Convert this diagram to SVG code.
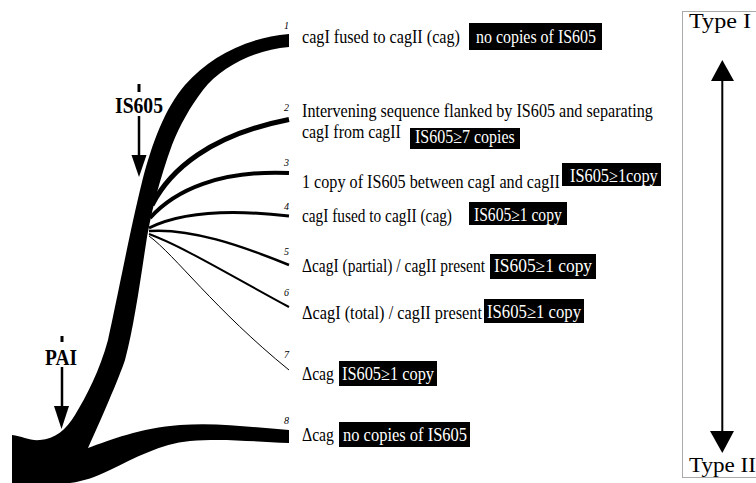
<svg xmlns="http://www.w3.org/2000/svg" width="756" height="483" viewBox="0 0 756 483">
  <style>
    .t { font-family: "Liberation Serif", "Times New Roman", serif; font-size: 18.5px; fill: #000; }
    .w { font-family: "Liberation Serif", "Times New Roman", serif; font-size: 18px; fill: #fff; }
    .num { font-family: "Liberation Serif", "Times New Roman", serif; font-size: 10px; font-style: italic; fill: #000; }
    .lbl { font-family: "Liberation Serif", "Times New Roman", serif; font-size: 24px; font-weight: bold; fill: #000; }
    .type { font-family: "Liberation Serif", "Times New Roman", serif; font-size: 20px; fill: #000; }
    .box { fill: #000; }
    .br { fill: none; stroke: #000; stroke-linecap: butt; }
  </style>
  <rect width="756" height="483" fill="#fff"/>

  <!-- main stem: PAI at the base, splitting into the long IS605 arm (1) and the short arm (8) -->
  <g id="stem">
    <path d="M12,483 L12,435 C22,436 30,441 40,440 C55,439 66,430 75,415 C86,397 100,370 108,340 C116,305 130,230 142,182 C152,143 165,108 185,85 C210,57 245,38 289,34 L289,47 C255,50 222,66 203,90 C190,107 180,125 172,145 C160,178 150,215 145,250 C139,290 133,330 125,360 C119,378 100,422 88,448 C110,440 140,428 180,425 C220,422 255,428 289,430 L289,443 C255,442 225,438 190,441 C160,444 135,458 110,470 C95,477 85,481 70,483 Z" fill="#000"/>
  </g>

  <!-- branches 2 to 7 leaving the IS605 arm -->
  <g id="connectors">
    <path class="br" d="M152,205 C170,170 210,135 289,119.5" stroke-width="5"/>
    <path class="br" d="M150,218 C175,190 220,170 289,173" stroke-width="4"/>
    <path class="br" d="M149,228 C175,215 220,208 289,216" stroke-width="3"/>
    <path class="br" d="M149,231 C190,228 240,245 289,265" stroke-width="2.5"/>
    <path class="br" d="M149,234 C180,245 235,278 289,307" stroke-width="2"/>
    <path class="br" d="M149,236 C175,255 215,310 289,370" stroke-width="1" stroke="#444"/>
  </g>

  <!-- insertion markers -->
  <g id="marker-is605">
    <rect x="137.5" y="84" width="3" height="8" fill="#000"/>
    <text class="lbl" x="115" y="113" textLength="48" lengthAdjust="spacingAndGlyphs">IS605</text>
    <line x1="139" y1="116" x2="139" y2="157" stroke="#000" stroke-width="2.5"/>
    <polygon points="131.5,155 146.5,155 139,177" fill="#000"/>
  </g>
  <g id="marker-pai">
    <rect x="60.5" y="336" width="3" height="6" fill="#000"/>
    <text class="lbl" x="45" y="365" textLength="32" lengthAdjust="spacingAndGlyphs">PAI</text>
    <line x1="62" y1="367" x2="62" y2="408" stroke="#000" stroke-width="2.5"/>
    <polygon points="54,406 69,406 61.5,429" fill="#000"/>
  </g>

  <!-- branch numbers -->
  <g id="numbers">
    <text class="num" x="284" y="29">1</text>
    <text class="num" x="284" y="111">2</text>
    <text class="num" x="284" y="166">3</text>
    <text class="num" x="284" y="210">4</text>
    <text class="num" x="284" y="255">5</text>
    <text class="num" x="284" y="296">6</text>
    <text class="num" x="284" y="358">7</text>
    <text class="num" x="284" y="424">8</text>
  </g>

  <!-- genotype descriptions (condensed serif: scaled 0.86 horizontally) -->
  <g id="row1">
    <text class="t" transform="matrix(0.86 0 0 1 302 43)" textLength="183.7" lengthAdjust="spacingAndGlyphs">cagI fused to cagII (cag)</text>
    <rect class="box" x="469" y="23" width="133" height="27"/>
    <text class="w" transform="matrix(0.86 0 0 1 476 43)" textLength="139.5" lengthAdjust="spacingAndGlyphs">no copies of IS605</text>
  </g>
  <g id="row2">
    <text class="t" transform="matrix(0.86 0 0 1 302 117)" textLength="408" lengthAdjust="spacingAndGlyphs">Intervening sequence flanked by IS605 and separating</text>
    <text class="t" transform="matrix(0.86 0 0 1 302 138)" textLength="115" lengthAdjust="spacingAndGlyphs">cagI from cagII</text>
    <rect class="box" x="410" y="128" width="110" height="21"/>
    <text class="w" transform="matrix(0.86 0 0 1 415 143)" textLength="116" lengthAdjust="spacingAndGlyphs">IS605≥7 copies</text>
  </g>
  <g id="row3">
    <text class="t" transform="matrix(0.86 0 0 1 302 188)" textLength="300" lengthAdjust="spacingAndGlyphs">1 copy of IS605 between cagI and cagII</text>
    <rect class="box" x="562" y="163" width="99" height="23"/>
    <text class="w" transform="matrix(0.86 0 0 1 570 182)" textLength="102" lengthAdjust="spacingAndGlyphs">IS605≥1copy</text>
  </g>
  <g id="row4">
    <text class="t" transform="matrix(0.86 0 0 1 302 222)" textLength="174.4" lengthAdjust="spacingAndGlyphs">cagI fused to cagII (cag)</text>
    <rect class="box" x="469" y="202" width="98" height="23"/>
    <text class="w" transform="matrix(0.86 0 0 1 474 221)" textLength="102" lengthAdjust="spacingAndGlyphs">IS605≥1 copy</text>
  </g>
  <g id="row5">
    <text class="t" transform="matrix(0.86 0 0 1 302 272)" textLength="212.8" lengthAdjust="spacingAndGlyphs">ΔcagI (partial) / cagII present</text>
    <rect class="box" x="490" y="254" width="106" height="25"/>
    <text class="w" transform="matrix(0.86 0 0 1 494 272)" textLength="114" lengthAdjust="spacingAndGlyphs">IS605≥1 copy</text>
  </g>
  <g id="row6">
    <text class="t" transform="matrix(0.86 0 0 1 302 319)" textLength="209.3" lengthAdjust="spacingAndGlyphs">ΔcagI (total) / cagII present</text>
    <rect class="box" x="484" y="299" width="100" height="24"/>
    <text class="w" transform="matrix(0.86 0 0 1 487 318)" textLength="109.3" lengthAdjust="spacingAndGlyphs">IS605≥1 copy</text>
  </g>
  <g id="row7">
    <text class="t" transform="matrix(0.86 0 0 1 302 380)" textLength="37.2" lengthAdjust="spacingAndGlyphs">Δcag</text>
    <rect class="box" x="339" y="361" width="98" height="25"/>
    <text class="w" transform="matrix(0.86 0 0 1 342 380)" textLength="107" lengthAdjust="spacingAndGlyphs">IS605≥1 copy</text>
  </g>
  <g id="row8">
    <text class="t" transform="matrix(0.86 0 0 1 302 441)" textLength="37.2" lengthAdjust="spacingAndGlyphs">Δcag</text>
    <rect class="box" x="339" y="422" width="131" height="25"/>
    <text class="w" transform="matrix(0.86 0 0 1 343 441)" textLength="144.2" lengthAdjust="spacingAndGlyphs">no copies of IS605</text>
  </g>

  <!-- Type I / Type II scale -->
  <g id="type-scale">
    <rect x="682.5" y="11.5" width="120" height="466" fill="none" stroke="#aaa" stroke-width="1"/>
    <text class="type" x="689" y="28" textLength="62" lengthAdjust="spacingAndGlyphs">Type I</text>
    <text class="type" x="689" y="472" textLength="67" lengthAdjust="spacingAndGlyphs">Type II</text>
    <line x1="722.3" y1="78" x2="722.3" y2="433" stroke="#000" stroke-width="2"/>
    <polygon points="722.3,60 711,81 734,81" fill="#000"/>
    <polygon points="722.3,453 710,431 734,431" fill="#000"/>
  </g>
</svg>
